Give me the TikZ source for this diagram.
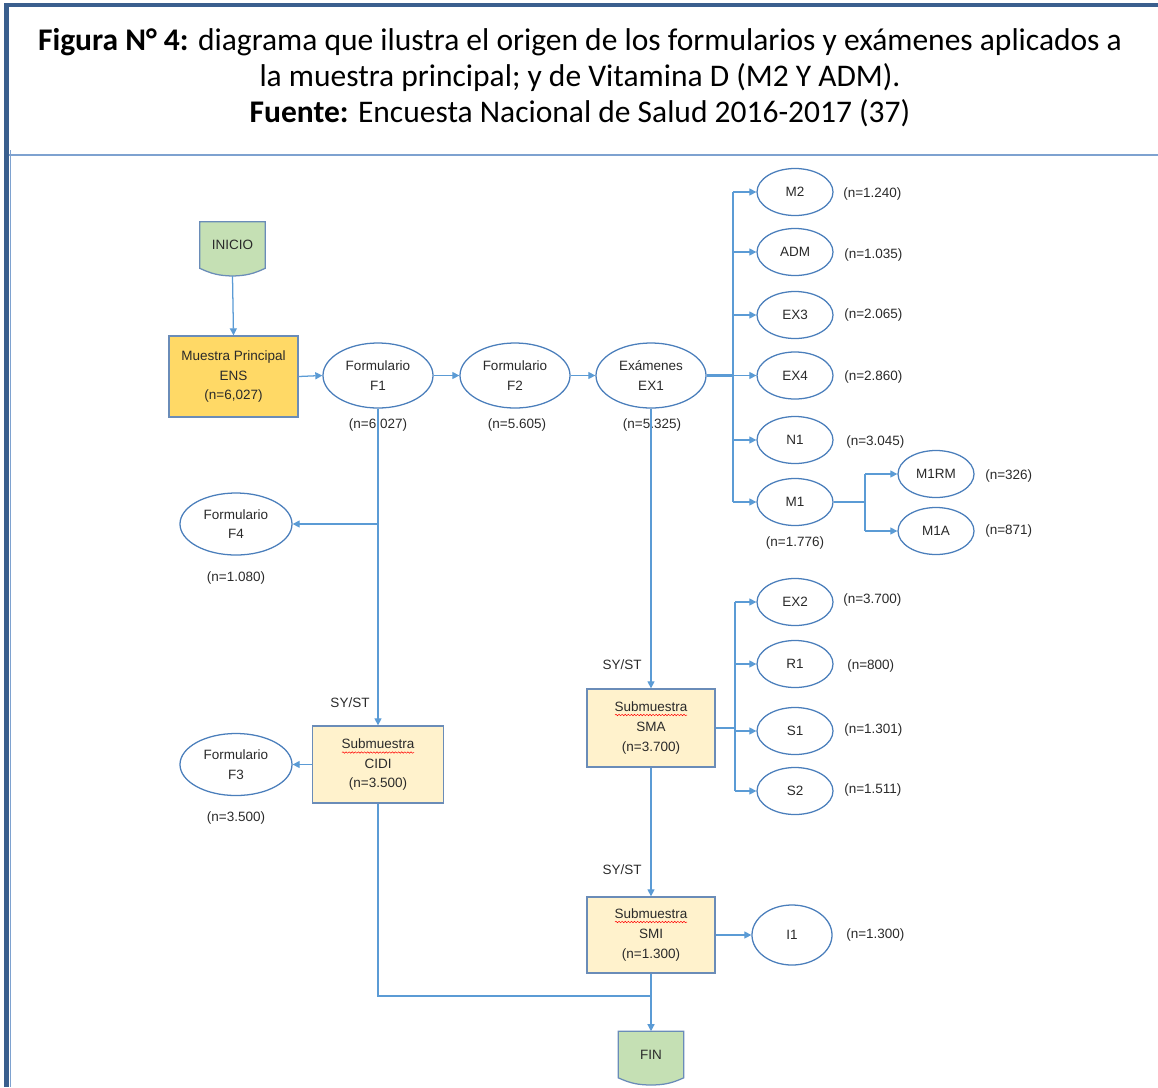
\documentclass[tikz,border=0pt]{standalone}
\usepackage{fontspec}
\setmainfont{Liberation Sans}
\newfontfamily\hdrfont{Carlito}
\usetikzlibrary{shapes.geometric,arrows.meta,calc,decorations.pathmorphing}
\definecolor{framedark}{HTML}{3A5F8E}
\definecolor{framelight}{HTML}{7EA2D0}
\definecolor{ellblue}{HTML}{4A7EBB}
\definecolor{lineblue}{HTML}{5B9BD5}
\definecolor{boxedge}{HTML}{6A8CB8}
\definecolor{gold}{HTML}{FFD966}
\definecolor{lightyel}{HTML}{FFF2CC}
\definecolor{startgreen}{HTML}{C5E0B4}
\definecolor{txt}{HTML}{2A2A2A}
\newcommand\dtext{\fontsize{9.6}{14}\selectfont}
\newcommand\htext{\hdrfont\fontsize{22.4}{26}\selectfont}
\begin{document}
\begin{tikzpicture}[x=0.025cm,y=-0.025cm,
  ell/.style={ellipse, draw=ellblue, fill=white, line width=0.9pt, align=center, inner sep=0pt, font=\dtext, text=txt},
  bigell/.style={ell, minimum width=2.75cm, minimum height=1.625cm},
  sidell/.style={ell, minimum width=2.8cm, minimum height=1.55cm},
  smallell/.style={ell, minimum width=1.9cm, minimum height=1.175cm},
  sbox/.style={rectangle, draw=boxedge, line width=0.9pt, align=center, inner sep=0pt, font=\dtext, text=txt},
  term/.style={rectangle, draw=none, inner sep=0pt, minimum width=1.625cm, minimum height=1.15cm, font=\dtext, text=txt},
  conn/.style={draw=lineblue, line width=0.9pt},
  thick conn/.style={draw=lineblue, line width=1.6pt},
  arr/.style={conn, -{Triangle[length=5pt,width=5pt]}},
  lbl/.style={font=\dtext, text=txt, inner sep=0pt},
  hdr/.style={font=\htext, inner sep=0pt, text=black},
  wavy/.style={draw=red, line width=0.35pt, decorate, decoration={snake, amplitude=0.5pt, segment length=2.2pt}}
]
\useasboundingbox (0,0) rectangle (1158,1087);

% frame
\draw[framedark, line width=2.6pt] (4,5) -- (1158,5);
\draw[framedark, line width=3.6pt] (6.5,3) -- (6.5,1087);
\draw[framelight, line width=0.6pt] (10.5,150) -- (10.5,1087);
\draw[framelight, line width=1.5pt] (9,155) -- (1158,155);

% header
\node[hdr] (h1) at (580,42) {\textbf{Figura N° 4:} diagrama que ilustra el origen de los formularios y exámenes aplicados a};
\node[hdr] (h2) at (580,78) {la muestra principal; y de Vitamina D (M2 Y ADM).};
\node[hdr] (h3) at (580,113) {\textbf{Fuente:} Encuesta Nacional de Salud 2016-2017 (37)};

% start / end terminators
\node[term] (inicio) at (232.5,245) {INICIO};
\coordinate (inicioTip) at (232.5,276);
\fill[startgreen, draw=boxedge, line width=0.9pt] (inicio.north west) -- (inicio.north east) -- (inicio.south east) to[bend left=12] (inicioTip) to[bend left=12] (inicio.south west) -- cycle;
\node[term] at (inicio) {INICIO};

\node[term] (fin) at (651,1054.5) {FIN};
\coordinate (finTip) at (651,1085);
\fill[startgreen, draw=boxedge, line width=0.9pt] (fin.north west) -- (fin.north east) -- (fin.south east) to[bend left=12] (finTip) to[bend left=12] (fin.south west) -- cycle;
\node[term] at (fin) {FIN};

% main row
\node[sbox, fill=gold, minimum width=3.225cm, minimum height=2.025cm] (muestra) at (233.5,376.5) {Muestra Principal\\ENS\\(n=6,027)};
\node[bigell] (f1) at (378,375.5) {Formulario\\F1};
\node[bigell] (f2) at (515,375.5) {Formulario\\F2};
\node[bigell] (ex1) at (651,375.5) {Exámenes\\EX1};

% right column
\node[smallell] (m2) at (795,192) {M2};
\node[smallell] (adm) at (795,252) {ADM};
\node[smallell] (ex3) at (795,315) {EX3};
\node[smallell] (ex4) at (795,375.5) {EX4};
\node[smallell] (n1) at (795,440) {N1};
\node[smallell] (m1) at (795,502) {M1};
\node[smallell] (m1rm) at (936,474) {M1RM};
\node[smallell] (m1a) at (936,531) {M1A};

% left side
\node[sidell] (f4) at (236,524) {Formulario\\F4};
\node[sidell] (f3) at (236,764.5) {Formulario\\F3};
\node[sbox, fill=lightyel, minimum width=3.275cm, minimum height=1.925cm] (cidi) at (378,764.5) {Submuestra\\CIDI\\(n=3.500)};

% sub-samples
\node[sbox, fill=lightyel, minimum width=3.2cm, minimum height=1.95cm] (sma) at (651,728) {Submuestra\\SMA\\(n=3.700)};
\node[sbox, fill=lightyel, minimum width=3.2cm, minimum height=1.9cm] (smi) at (651,935) {Submuestra\\SMI\\(n=1.300)};
\node[smallell] (ex2) at (795,602) {EX2};
\node[smallell] (r1) at (795,664) {R1};
\node[smallell] (s1) at (795,731) {S1};
\node[smallell] (s2) at (795,791) {S2};
\node[ell, minimum width=2.0cm, minimum height=1.5cm] (i1) at (792,935) {I1};

% spell-check underlines
\draw[wavy] ($(cidi.center)+(-36,-12)$) -- ++(72,0);
\draw[wavy] ($(sma.center)+(-36,-13)$) -- ++(72,0);
\draw[wavy] ($(smi.center)+(-36,-13)$) -- ++(72,0);

% count labels
\node[lbl] (lf1) at (378,425) {(n=6.027)};
\node[lbl] (lf2) at (517,425) {(n=5.605)};
\node[lbl] (lex1) at (652,425) {(n=5.325)};
\node[lbl, anchor=west] (lm2) at (843,194) {(n=1.240)};
\node[lbl, anchor=west] (ladm) at (844,255) {(n=1.035)};
\node[lbl, anchor=west] (lex3) at (844,315) {(n=2.065)};
\node[lbl, anchor=west] (lex4) at (844,377) {(n=2.860)};
\node[lbl, anchor=west] (ln1) at (846,442) {(n=3.045)};
\node[lbl] (lm1) at (795,543) {(n=1.776)};
\node[lbl, anchor=west] (lm1rm) at (985,476) {(n=326)};
\node[lbl, anchor=west] (lm1a) at (985,531) {(n=871)};
\node[lbl] (lf4) at (236,578) {(n=1.080)};
\node[lbl] (lf3) at (236,818) {(n=3.500)};
\node[lbl, anchor=west] (lex2) at (843,600) {(n=3.700)};
\node[lbl, anchor=west] (lr1) at (847,666) {(n=800)};
\node[lbl, anchor=west] (ls1) at (844,730) {(n=1.301)};
\node[lbl, anchor=west] (ls2) at (844,790) {(n=1.511)};
\node[lbl, anchor=west] (li1) at (846,935) {(n=1.300)};
\node[lbl] (sy1) at (350,703) {SY/ST};
\node[lbl] (sy2) at (622,665) {SY/ST};
\node[lbl] (sy3) at (622,870) {SY/ST};

% junction coordinates
\coordinate (tA) at (733,375.5);
\coordinate (tB) at (865,502);
\coordinate (tC) at (735,728);
\coordinate (f4j) at (378,524);
\coordinate (fj) at (651,996);

% connectors
\draw[arr] (inicioTip) -- (muestra.north);
\draw[arr] (muestra.east) -- (f1.west);
\draw[arr] (f1.east) -- (f2.west);
\draw[arr] (f2.east) -- (ex1.west);
\draw[thick conn] (ex1.east) -- (tA);
\draw[conn] (tA |- m2) -- (tA |- m1);
\draw[arr] (tA |- m2) -- (m2.west);
\draw[arr] (tA |- adm) -- (adm.west);
\draw[arr] (tA |- ex3) -- (ex3.west);
\draw[arr] (tA) -- (ex4.west);
\draw[arr] (tA |- n1) -- (n1.west);
\draw[arr] (tA |- m1) -- (m1.west);
\draw[conn] (m1.east) -- (tB);
\draw[conn] (tB |- m1rm) -- (tB |- m1a);
\draw[arr] (tB |- m1rm) -- (m1rm.west);
\draw[arr] (tB |- m1a) -- (m1a.west);

\draw[thick conn] (f1.south) -- (f4j);
\draw[arr] (f4j) -- (cidi.north);
\draw[arr] (f4j) -- (f4.east);
\draw[arr] (cidi.west) -- (f3.east);

\draw[arr] (ex1.south) -- (sma.north);
\draw[conn] (sma.east) -- (tC);
\draw[conn] (tC |- ex2) -- (tC |- s2);
\draw[arr] (tC |- ex2) -- (ex2.west);
\draw[arr] (tC |- r1) -- (r1.west);
\draw[arr] (tC |- s1) -- (s1.west);
\draw[arr] (tC |- s2) -- (s2.west);
\draw[arr] (sma.south) -- (smi.north);
\draw[arr] (smi.east) -- (i1.west);
\draw[conn] (cidi.south) |- (fj);
\draw[arr] (smi.south) -- (fin.north);
\end{tikzpicture}
\end{document}
